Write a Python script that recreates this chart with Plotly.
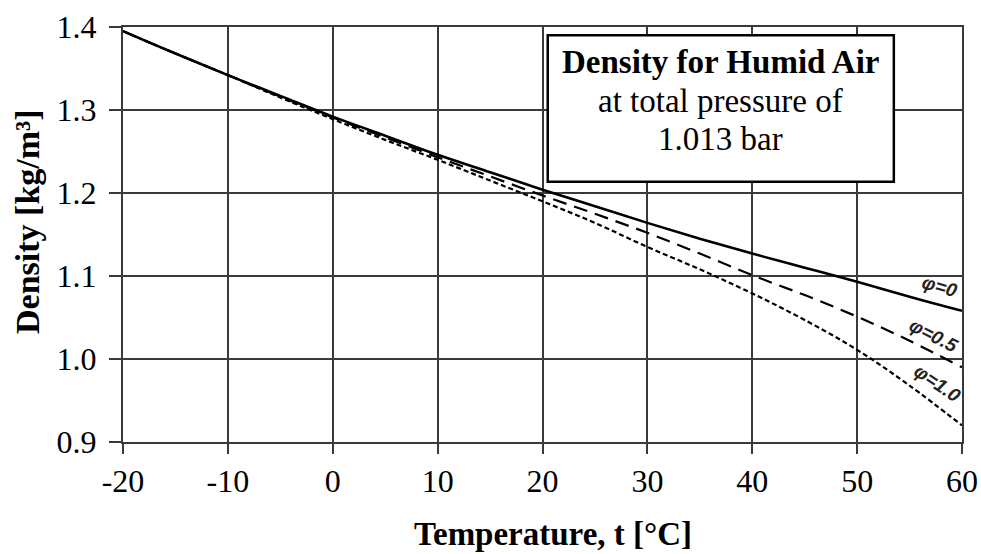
import plotly.graph_objects as go

# Temperature grid [°C]
temps = [-20, -15, -10, -5, 0, 5, 10, 15, 20, 25, 30, 35, 40, 45, 50, 55, 60]

# Density of humid air [kg/m³] at 1.013 bar for relative humidity φ
rho_phi0 = [1.395, 1.368, 1.342, 1.317, 1.292, 1.269, 1.246, 1.225, 1.204,
            1.184, 1.164, 1.145, 1.127, 1.110, 1.093, 1.075, 1.058]
rho_phi05 = [1.395, 1.368, 1.342, 1.316, 1.291, 1.267, 1.243, 1.220, 1.197,
             1.175, 1.152, 1.127, 1.101, 1.077, 1.051, 1.022, 0.990]
rho_phi10 = [1.395, 1.368, 1.342, 1.315, 1.289, 1.264, 1.240, 1.215, 1.190,
             1.164, 1.135, 1.108, 1.079, 1.047, 1.011, 0.968, 0.920]

x_ticks = [-20, -10, 0, 10, 20, 30, 40, 50, 60]
x_tick_text = ["-20", "-10", "0", "10", "20", "30", "40", "50", "60"]
y_ticks = [0.9, 1.0, 1.1, 1.2, 1.3, 1.4]
y_tick_text = ["0.9", "1.0", "1.1", "1.2", "1.3", "1.4"]

SERIF = "Liberation Serif, Times New Roman, serif"
SANS = "Liberation Sans, Arial, sans-serif"
GRID = "#3a3a3a"

fig = go.Figure()
fig.add_trace(go.Scatter(x=temps, y=rho_phi0, mode="lines", line_shape="spline",
                         line=dict(color="black", width=2.6), name="φ=0"))
fig.add_trace(go.Scatter(x=temps, y=rho_phi05, mode="lines", line_shape="spline",
                         line=dict(color="black", width=2.2, dash="14px,8px"), name="φ=0.5"))
fig.add_trace(go.Scatter(x=temps, y=rho_phi10, mode="lines", line_shape="spline",
                         line=dict(color="black", width=2.2, dash="5px,3px"), name="φ=1.0"))

fig.update_layout(
    width=981, height=554,
    margin=dict(l=123, r=19, t=27, b=112, autoexpand=False),
    paper_bgcolor="white", plot_bgcolor="white",
    showlegend=False,
    font=dict(family=SERIF, color="black"),
)

fig.update_xaxes(
    range=[-20, 60], tickvals=x_ticks, ticktext=x_tick_text, ticks="outside",
    ticklen=10, tickwidth=1.5, tickcolor=GRID, showgrid=True, gridcolor=GRID,
    gridwidth=1.5, showline=True, linecolor=GRID, linewidth=2, mirror=True,
    zeroline=False, automargin=False,
    tickfont=dict(size=32, family=SERIF, color="black"),
)
fig.update_yaxes(
    range=[0.9, 1.4], tickvals=y_ticks, ticktext=y_tick_text, ticks="outside",
    ticklen=12, tickwidth=1.5, tickcolor=GRID, showgrid=True, gridcolor=GRID,
    gridwidth=1.5, showline=True, linecolor=GRID, linewidth=2, mirror=True,
    zeroline=False, automargin=False, ticklabelstandoff=6,
    tickfont=dict(size=32, family=SERIF, color="black"),
)

# Axis titles
fig.add_annotation(x=0.5125, y=-0.222, xref="paper", yref="paper",
                   text="<b>Temperature, t [°C]</b>", showarrow=False,
                   font=dict(size=33, family=SERIF, color="black"),
                   xanchor="center", yanchor="middle")
fig.add_annotation(x=-0.1145, y=0.5325, xref="paper", yref="paper",
                   text="<b>Density [kg/m³]</b>", showarrow=False, textangle=-90,
                   font=dict(size=34, family=SERIF, color="black"),
                   xanchor="center", yanchor="middle")

# Title box
fig.add_shape(type="rect", xref="x", yref="y", x0=20.5, x1=53.5, y0=1.2137, y1=1.390,
              line=dict(color="black", width=2.5), fillcolor="white", layer="above")
box_lines = [("<b>Density for Humid Air</b>", 1.358),
             ("at total pressure of", 1.311),
             ("1.013 bar", 1.2654)]
for txt, yy in box_lines:
    fig.add_annotation(x=37.0, y=yy, xref="x", yref="y", text=txt, showarrow=False,
                       font=dict(size=33, family=SERIF, color="black"),
                       xanchor="center", yanchor="middle")

# Curve labels
curve_labels = [("<b><i>φ=0</i></b>", 57.9, 1.0875, 16),
                ("<b><i>φ=0.5</i></b>", 57.3, 1.0286, 27),
                ("<b><i>φ=1.0</i></b>", 57.7, 0.971, 34)]
for txt, xx, yy, ang in curve_labels:
    fig.add_annotation(x=xx, y=yy, xref="x", yref="y", text=txt, showarrow=False,
                       textangle=ang, font=dict(size=19, family=SANS, color="#222222"))

fig.write_html("out.html")
